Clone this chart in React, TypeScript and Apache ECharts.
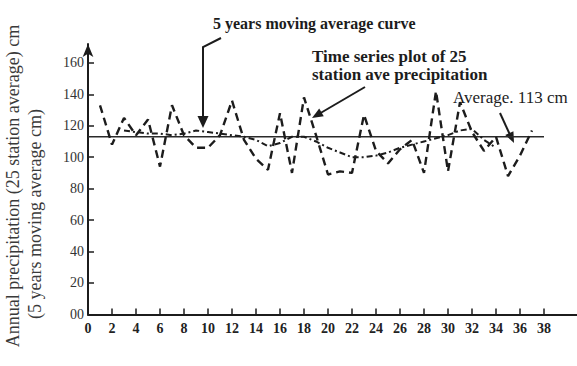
import React, { useEffect, useRef } from "react";
import * as echarts from "echarts";

// Years (x) and 25-station average annual precipitation (cm)
const years = [1, 2, 3, 4, 5, 6, 7, 8, 9, 10, 11, 12, 13, 14, 15, 16, 17, 18, 19, 20, 21, 22, 23, 24, 25, 26, 27, 28, 29, 30, 31, 32, 33, 34, 35, 36, 37];
const precipitation = [133, 108, 125, 114, 124, 94, 133, 114, 106, 106, 114, 136, 111, 99, 92, 128, 90, 138, 114, 89, 91, 90, 127, 104, 96, 105, 111, 90, 142, 91, 135, 116, 104, 113, 88, 101, 117];

// 5 years moving average curve
const maYears = [3, 4, 5, 6, 7, 8, 9, 10, 11, 12, 13, 14, 15, 16, 17, 18, 19, 20, 21, 22, 23, 24, 25, 26, 27, 28, 29, 30, 31, 32, 33, 34];
const movingAverage = [117, 116, 115, 115, 114, 115, 117, 116, 115, 114, 113, 111, 107, 109, 113, 113, 110, 106, 103, 100, 100, 101, 103, 106, 108, 110, 112, 114, 117, 118, 111, 106];

// Long-term average line
const averageValue = 113;
const averageSpan = [0, 38];

// Tick labels
const xTickValues = [0, 2, 4, 6, 8, 10, 12, 14, 16, 18, 20, 22, 24, 26, 28, 30, 32, 34, 36, 38];
const xTickMarks = [2, 4, 6, 8, 10, 12, 14, 16, 18, 20, 22, 24, 26, 28, 30, 32, 34, 36, 38];
const yTickValues = [0, 20, 40, 60, 80, 100, 120, 140, 160];

const FONT = "'Liberation Serif', 'DejaVu Serif', serif";
const INK = "#1c1c1c";

function arrowHead(tip: number[], from: number[], len: number, half: number) {
  const dx = tip[0] - from[0];
  const dy = tip[1] - from[1];
  const d = Math.sqrt(dx * dx + dy * dy);
  const ux = dx / d, uy = dy / d;
  const bx = tip[0] - ux * len, by = tip[1] - uy * len;
  return [tip, [bx - uy * half, by + ux * half], [bx + uy * half, by - ux * half]];
}

export default function App() {
  const ref = useRef<HTMLDivElement>(null);
  useEffect(() => {
    if (!ref.current) return;
    const chart = echarts.init(ref.current, null, { renderer: "svg" });
    const tsData = years.map((y, i) => [y, precipitation[i]]);
    const maData = maYears.map((y, i) => [y, movingAverage[i]]);
    const avgData = averageSpan.map((x) => [x, averageValue]);

    const a2From = [365, 87], a2Tip = [312, 118];
    const a3From = [500, 113], a3Tip = [514, 143];

    chart.setOption({
      animation: false,
      backgroundColor: "#ffffff",
      grid: { left: 88, top: 44, width: 489, height: 270.4, containLabel: false, outerBoundsMode: "none" },
      xAxis: {
        type: "value",
        min: 0,
        max: 40.75,
        interval: 2,
        splitLine: { show: false },
        axisLine: { lineStyle: { color: INK, width: 2 } },
        axisTick: { inside: true, length: 6, customValues: xTickMarks, lineStyle: { color: INK, width: 1.5 } },
        axisLabel: {
          customValues: xTickValues,
          color: "#222",
          fontFamily: FONT,
          fontSize: 14,
          fontWeight: "bold",
          margin: 7,
        },
      },
      yAxis: {
        type: "value",
        min: 0,
        max: 172,
        interval: 20,
        splitLine: { show: false },
        axisLine: {
          show: true,
          symbol: ["none", "arrow"],
          symbolSize: [8, 13],
          lineStyle: { color: INK, width: 2 },
        },
        axisTick: { show: true, inside: true, length: 6, customValues: yTickValues, lineStyle: { color: INK, width: 1.5 } },
        axisLabel: {
          customValues: yTickValues,
          formatter: (v: number) => (v === 0 ? "00" : String(v)),
          color: "#333",
          fontFamily: FONT,
          fontSize: 14,
          margin: 4,
        },
      },
      series: [
        {
          type: "line",
          data: avgData,
          symbol: "none",
          lineStyle: { color: "#2a2a2a", width: 1.6, type: "solid" },
          z: 1,
        },
        {
          type: "line",
          data: maData,
          symbol: "none",
          lineStyle: { color: INK, width: 2, type: [6, 3, 2, 3] },
          z: 2,
        },
        {
          type: "line",
          data: tsData,
          symbol: "none",
          lineStyle: { color: INK, width: 2.4, type: [8, 5] },
          z: 3,
        },
      ],
      graphic: [
        {
          type: "text",
          x: 13,
          y: 186,
          rotation: Math.PI / 2,
          style: {
            text: "Annual precipitation (25 station average) cm",
            font: `18px ${FONT}`,
            fill: "#3a3a3a",
            textAlign: "center",
            textVerticalAlign: "middle",
          },
        },
        {
          type: "text",
          x: 35,
          y: 214,
          rotation: Math.PI / 2,
          style: {
            text: "(5 years moving average cm)",
            font: `18px ${FONT}`,
            fill: "#3a3a3a",
            textAlign: "center",
            textVerticalAlign: "middle",
          },
        },
        {
          type: "text",
          x: 213,
          y: 23,
          style: {
            text: "5 years moving average curve",
            font: `bold 16px ${FONT}`,
            fill: INK,
            textAlign: "left",
            textVerticalAlign: "middle",
          },
        },
        {
          type: "polyline",
          shape: { points: [[221, 38], [203, 47], [203, 118]] },
          style: { stroke: INK, lineWidth: 2, fill: "none" },
        },
        {
          type: "polygon",
          shape: { points: [[197.5, 116], [208.5, 116], [203, 128]] },
          style: { fill: INK },
        },
        {
          type: "text",
          x: 312,
          y: 56,
          style: {
            text: "Time series plot of 25",
            font: `bold 17px ${FONT}`,
            fill: INK,
            textAlign: "left",
            textVerticalAlign: "middle",
          },
        },
        {
          type: "text",
          x: 312,
          y: 74,
          style: {
            text: "station ave precipitation",
            font: `bold 17px ${FONT}`,
            fill: INK,
            textAlign: "left",
            textVerticalAlign: "middle",
          },
        },
        {
          type: "line",
          shape: { x1: a2From[0], y1: a2From[1], x2: a2Tip[0] + 6, y2: a2Tip[1] - 3.5 },
          style: { stroke: INK, lineWidth: 2 },
        },
        {
          type: "polygon",
          shape: { points: arrowHead(a2Tip, a2From, 11, 4.5) },
          style: { fill: INK },
        },
        {
          type: "text",
          x: 453,
          y: 97,
          style: {
            text: "Average. 113 cm",
            font: `17px ${FONT}`,
            fill: INK,
            textAlign: "left",
            textVerticalAlign: "middle",
          },
        },
        {
          type: "line",
          shape: { x1: a3From[0], y1: a3From[1], x2: a3Tip[0] - 3, y2: a3Tip[1] - 6 },
          style: { stroke: INK, lineWidth: 2 },
        },
        {
          type: "polygon",
          shape: { points: arrowHead(a3Tip, a3From, 11, 4.5) },
          style: { fill: INK },
        },
      ],
    });
    return () => chart.dispose();
  }, []);
  return (
    <div
      ref={ref}
      style={{ position: "fixed", left: 0, top: 0, width: 577, height: 366 }}
    />
  );
}
